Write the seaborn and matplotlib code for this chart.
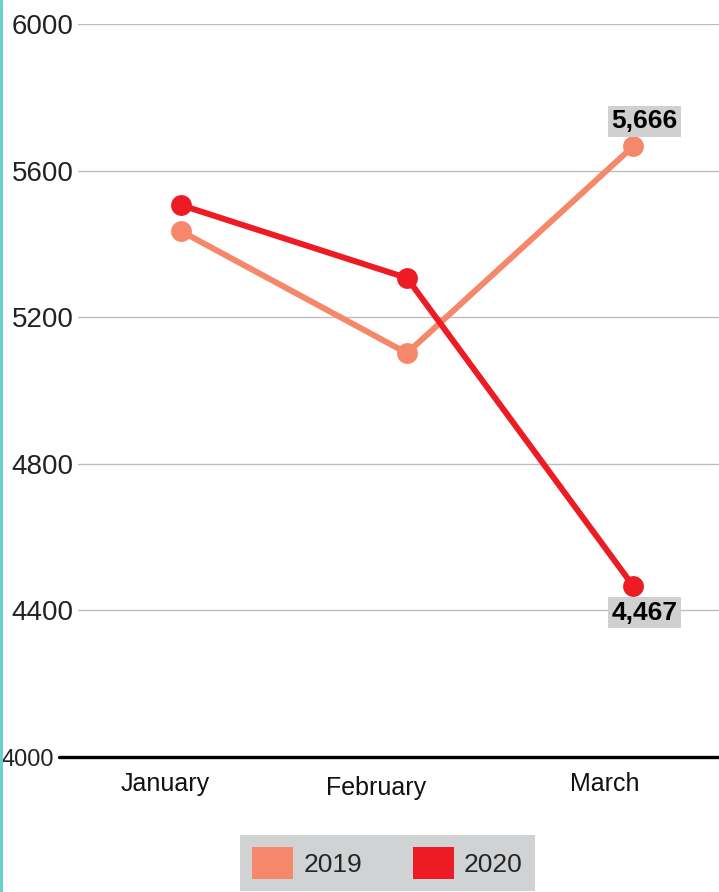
import pandas as pd
import matplotlib
matplotlib.use("Agg")
import matplotlib.pyplot as plt
import matplotlib.transforms as mtransforms
import seaborn as sns
from matplotlib.patches import Patch
from matplotlib.lines import Line2D

sns.set_theme(style="white")
plt.rcParams["font.family"] = ["Liberation Sans", "DejaVu Sans"]

months = ["January", "February", "March"]
years = ["2019", "2020"]
values_2019 = [5435, 5102, 5666]
values_2020 = [5506, 5307, 4467]
colors = {"2019": "#f5876a", "2020": "#ed1c24"}

df = pd.DataFrame({
    "month": months * 2,
    "year": ["2019"] * 3 + ["2020"] * 3,
    "value": values_2019 + values_2020,
})
df["pos"] = df["month"].map({m: i for i, m in enumerate(months)})

fig = plt.figure(figsize=(7.19, 8.92), dpi=100)
ax = fig.add_axes([0.1085, 0.1513, 0.8915, 0.8218])

sns.lineplot(data=df, x="pos", y="value", hue="year", palette=colors,
             marker="o", markersize=15, markeredgewidth=0, linewidth=4.3,
             legend=False, ax=ax)

ax.set_xlim(-0.455, 2.38)
ax.set_ylim(4000, 6000)
ax.set_yticks([4000, 4400, 4800, 5200, 5600, 6000])
ax.yaxis.grid(True, color="#bdbdbd", linewidth=1)
ax.set_axisbelow(True)
for s in ax.spines.values():
    s.set_visible(False)
ax.tick_params(axis="y", length=0, pad=3, labelsize=20, labelcolor="#222222")
ax.set_xticks([])
ax.set_xlabel("")
ax.set_ylabel("")
# 4000 label is a bit smaller and sits further left, clear of the baseline
base_lab = ax.get_yticklabels()[0]
base_lab.set_fontsize(17)
base_lab.set_transform(base_lab.get_transform() +
                       mtransforms.ScaledTranslation(-0.2, 0, fig.dpi_scale_trans))

# baseline
ax.add_line(Line2D([-0.03, 1], [0, 0], transform=ax.transAxes, color="black",
                   linewidth=2.4, clip_on=False))

# month labels (slightly left of points, February lower)
label_pos = [(-0.07, 3926), (-0.135, 3915), (-0.125, 3926)]
for i, m in enumerate(months):
    dx, y = label_pos[i]
    ax.text(i + dx, y, m, ha="center", va="center", fontsize=18, color="#111111")

# value annotations for March
bbox = dict(boxstyle="square,pad=0.14", facecolor="#d0d0d0", edgecolor="none")
ax.text(2.05, values_2019[2] + 68, f"{values_2019[2]:,}", ha="center", va="center",
        fontsize=19, fontweight="bold", color="black", bbox=bbox)
ax.text(2.05, values_2020[2] - 73, f"{values_2020[2]:,}", ha="center", va="center",
        fontsize=19, fontweight="bold", color="black", bbox=bbox)

handles = [Patch(facecolor=colors[y], edgecolor="none", label=y) for y in years]
leg = fig.legend(handles=handles, loc="center", bbox_to_anchor=(0.539, 0.0325),
                 ncol=2, frameon=True, handlelength=1.55,
                 handleheight=1.5, handletextpad=0.4, columnspacing=1.9,
                 borderpad=0.45, fancybox=False, prop={"size": 19})
leg.get_frame().set_facecolor("#d1d2d4")
leg.get_frame().set_edgecolor("none")
leg.get_frame().set_alpha(1)

# teal left border
fig.add_artist(Line2D([0.0015, 0.0015], [0, 1], transform=fig.transFigure,
                      color="#5fcfc8", linewidth=2))

fig.savefig("out.png", dpi=100)
